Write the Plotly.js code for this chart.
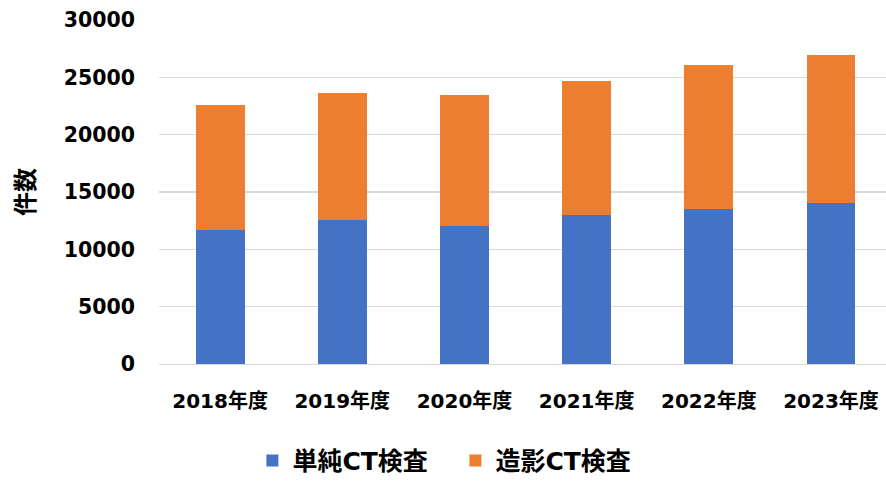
<!DOCTYPE html>
<html>
<head>
<meta charset="utf-8">
<script src="https://cdn.plot.ly/plotly-3.0.1.min.js"></script>
<style>html,body{margin:0;padding:0;background:#fff;}#chart{width:886px;height:481px;}</style>
</head>
<body>
<div id="chart"></div>
<script>
const categories = ["2018年度", "2019年度", "2020年度", "2021年度", "2022年度", "2023年度"];
const plainCT = [11690, 12530, 12060, 12960, 13550, 14010];
const contrastCT = [10940, 11110, 11430, 11740, 12520, 12950];
const seriesNames = ["単純CT検査", "造影CT検査"];
const yTicks = [0, 5000, 10000, 15000, 20000, 25000, 30000];
const yTitle = "件数";

const FONT = "DejaVu Sans, Noto Sans CJK JP, sans-serif";

const traces = [
  {type: "bar", name: seriesNames[0], x: categories, y: plainCT, marker: {color: "#4472C4"}, hoverinfo: "skip"},
  {type: "bar", name: seriesNames[1], x: categories, y: contrastCT, marker: {color: "#ED7D31"}, hoverinfo: "skip"}
];

const layout = {
  width: 886, height: 481,
  paper_bgcolor: "#ffffff", plot_bgcolor: "#ffffff",
  barmode: "stack", bargap: 0.6,
  margin: {l: 159, r: 0, t: 20, b: 117, autoexpand: false},
  font: {family: FONT, color: "#000000", size: 20, weight: "bold"},
  xaxis: {
    type: "category", range: [-0.5, 5.45], automargin: false,
    showgrid: false, zeroline: false, showline: true, linecolor: "#D9D9D9", linewidth: 1.3,
    ticks: "", ticklabelstandoff: 19,
    tickfont: {family: FONT, size: 20, color: "#000000", weight: "bold"}
  },
  yaxis: {
    range: [0, 30000], tickvals: yTicks, tickformat: "d", automargin: false,
    showgrid: true, gridcolor: "#D9D9D9", gridwidth: 1.3, zeroline: false, showline: false,
    ticks: "", ticklabelstandoff: 23,
    tickfont: {family: FONT, size: 20.5, color: "#000000", weight: "bold"},
    title: {text: yTitle, standoff: 22, font: {family: FONT, size: 24, color: "#000000", weight: "bold"}}
  },
  showlegend: true,
  legend: {
    orientation: "h", xref: "container", yref: "container",
    x: 0.514, xanchor: "center", y: 0.042, yanchor: "middle",
    entrywidth: 158, entrywidthmode: "pixels", traceorder: "normal",
    font: {family: FONT, size: 25, color: "#000000", weight: "bold"}
  }
};

Plotly.newPlot("chart", traces, layout, {displayModeBar: false, staticPlot: true});
</script>
</body>
</html>
